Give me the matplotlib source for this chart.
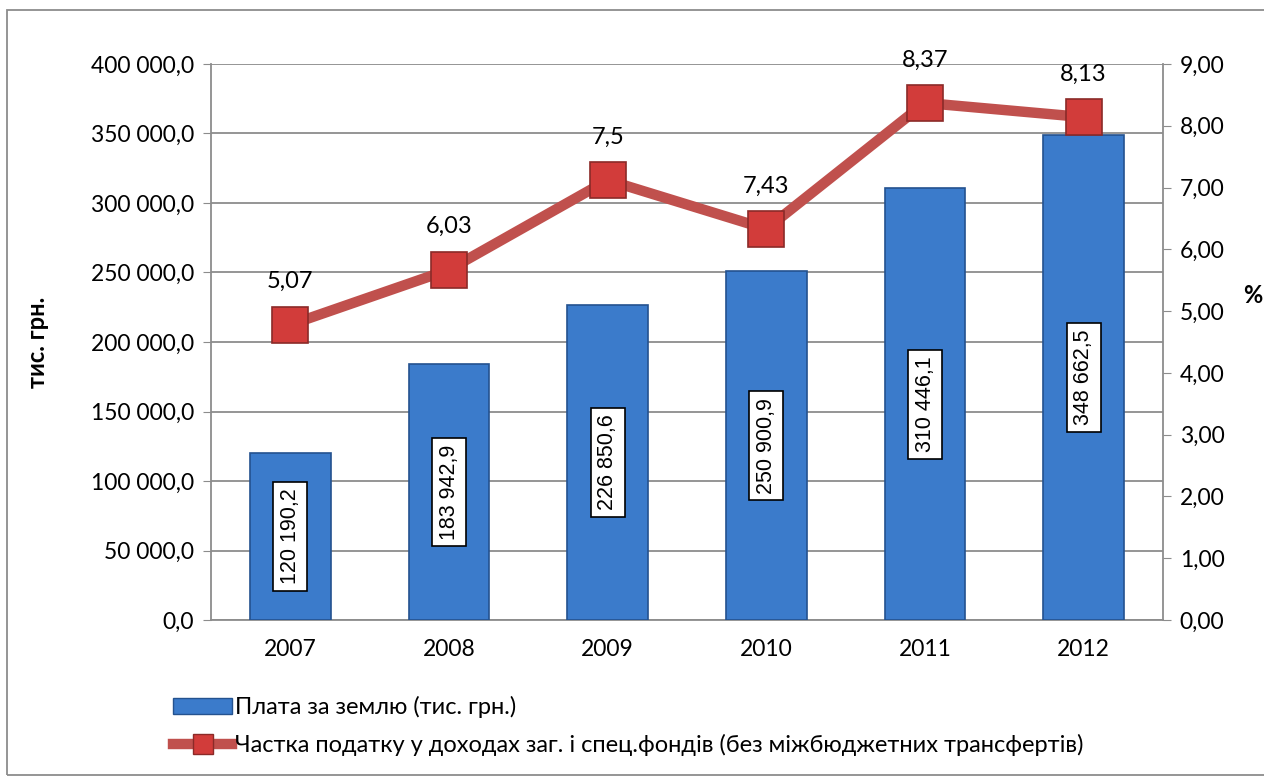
import matplotlib.pyplot as plt
import matplotlib.ticker as ticker
from matplotlib.patches import Rectangle
from matplotlib.lines import Line2D

plt.rcParams['font.family'] = ['Lato', 'DejaVu Sans']

years = ['2007', '2008', '2009', '2010', '2011', '2012']
land_fee = [120190.2, 183942.9, 226850.6, 250900.9, 310446.1, 348662.5]
bar_labels = ['120 190,2', '183 942,9', '226 850,6', '250 900,9', '310 446,1', '348 662,5']
share = [4.78, 5.67, 7.12, 6.33, 8.37, 8.14]
share_labels = ['5,07', '6,03', '7,5', '7,43', '8,37', '8,13']

bar_color = '#3B7BCB'
line_color = '#C0504D'

fig = plt.figure(figsize=(12.64, 7.8), dpi=100)
ax = fig.add_axes([211 / 1264, 1 - 620 / 780, 952 / 1264, 556 / 780])
ax2 = ax.twinx()

x = list(range(len(years)))
ax.bar(x, land_fee, width=0.51, color=bar_color, edgecolor='#24528F', linewidth=1.2, zorder=3)
for xi, v, lab in zip(x, land_fee, bar_labels):
    ax.text(xi, v / 2, lab, rotation=90, ha='center', va='center', fontsize=15.5,
            family='Liberation Sans', zorder=5,
            bbox=dict(boxstyle='square,pad=0.3', facecolor='white', edgecolor='black', linewidth=1.2))

ax.set_xlim(-0.5, 5.5)
ax.set_ylim(0, 400000)
ax.yaxis.set_major_locator(ticker.MultipleLocator(50000))
ax.yaxis.set_major_formatter(ticker.FuncFormatter(lambda v, p: f'{v:,.1f}'.replace(',', ' ').replace('.', ',')))
ax.grid(axis='y', color='#8C8C8C', linewidth=1.3, zorder=0)
ax.set_axisbelow(True)
ax.set_xticks(x)
ax.set_xticklabels(years)
ax.tick_params(axis='x', length=0, labelsize=16.5, pad=14)
ax.tick_params(axis='y', labelsize=16.5, color='#8C8C8C', length=6, pad=6)
ax.set_ylabel('тис. грн.', fontsize=17, fontweight='bold')
ax.yaxis.set_label_coords(-0.17, 0.5)
for side in ['top', 'right']:
    ax.spines[side].set_visible(False)
for side in ['left', 'bottom']:
    ax.spines[side].set_color('#8C8C8C')
    ax.spines[side].set_linewidth(1.3)

ax2.plot(x, share, color=line_color, linewidth=7.5, marker='s', markersize=26,
         markerfacecolor='#D23C3A', markeredgecolor='#8B2A28', markeredgewidth=1.2, zorder=4)
for xi, v, lab in zip(x, share, share_labels):
    ax2.annotate(lab, (xi, v), textcoords='offset points', xytext=(0, 31),
                 ha='center', va='center', fontsize=17)
ax2.set_ylim(0, 9)
ax2.yaxis.set_major_locator(ticker.MultipleLocator(1))
ax2.yaxis.set_major_formatter(ticker.FuncFormatter(lambda v, p: f'{v:.2f}'.replace('.', ',')))
ax2.tick_params(axis='y', labelsize=16.5, color='#8C8C8C', length=6, pad=6)
ax2.set_ylabel('%', fontsize=17, fontweight='bold', rotation=0)
ax2.yaxis.set_label_coords(1.094, 0.605)
for side in ['top', 'left', 'bottom']:
    ax2.spines[side].set_visible(False)
ax2.spines['right'].set_color('#8C8C8C')
ax2.spines['right'].set_linewidth(1.3)

handles = [
    Rectangle((0, 0), 1, 1, facecolor=bar_color, edgecolor='#24528F'),
    Line2D([0], [0], color=line_color, linewidth=7.5, marker='s', markersize=14,
           markerfacecolor='#D23C3A', markeredgecolor='#8B2A28'),
]
labels = ['Плата за землю (тис. грн.)',
          'Частка податку у доходах заг. і спец.фондів (без міжбюджетних трансфертів)']
fig.legend(handles, labels, loc='upper left', bbox_to_anchor=(152 / 1264, 1 - 675 / 780),
           frameon=False, fontsize=17, handlelength=2.5, handletextpad=0.1, labelspacing=0.65)

fig.patches.append(Rectangle((7 / 1264, 5 / 780), 1.2, 1 - 15 / 780, transform=fig.transFigure,
                             fill=False, edgecolor='#8C8C8C', linewidth=1.3))

fig.savefig('out.png', dpi=100)
